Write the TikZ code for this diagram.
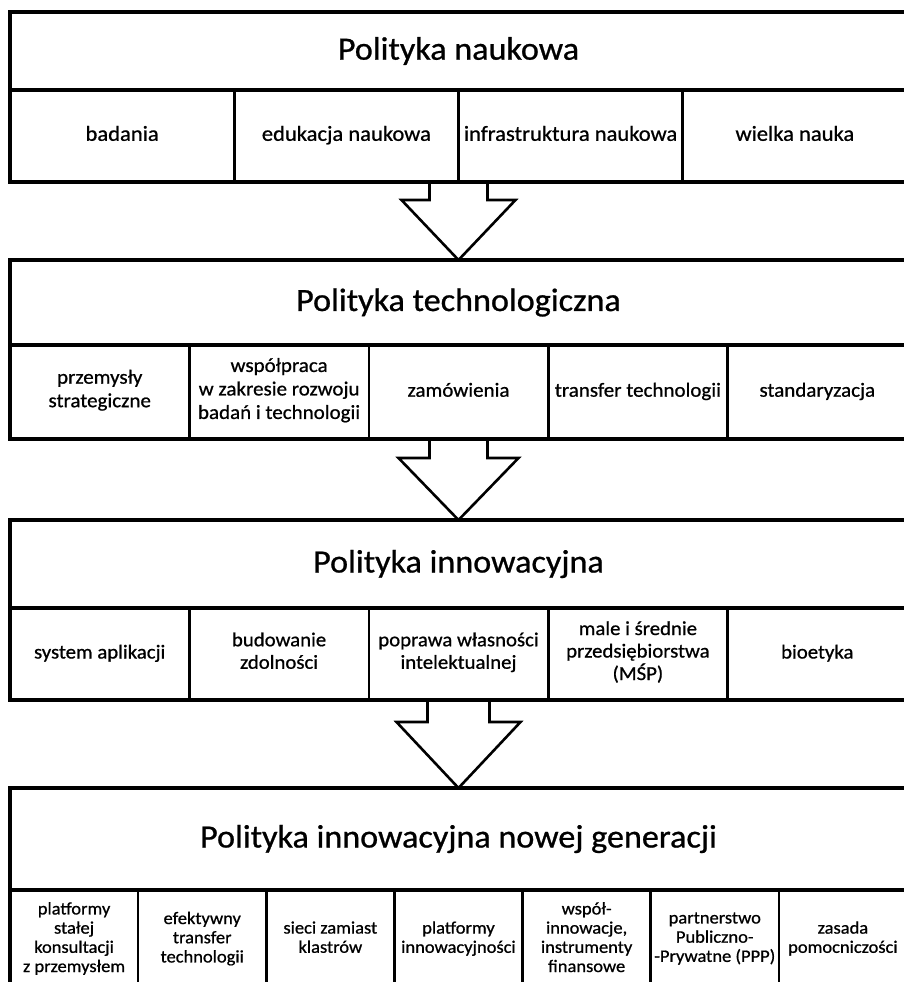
\documentclass[tikz,border=0pt]{standalone}
\usepackage{fontspec}
\setmainfont{Carlito}[FakeStretch=1.05, FakeBold=0.8]
\usetikzlibrary{positioning, calc}

\tikzset{
  head/.style={draw, line width=3.5pt, anchor=north west, outer sep=0pt,
    minimum width=897pt, font=\fontsize{32.5}{36}\selectfont},
  cell/.style={draw, line width=2.6pt, anchor=north west, outer sep=0pt,
    align=center, inner sep=0pt,
    execute at begin node={\strut}, execute at end node={\strut}},
  frame/.style={draw, line width=4pt},
  bigarrow/.style={draw, line width=2.6pt, line join=miter},
}

\begin{document}
\begin{tikzpicture}[x=1pt, y=-1pt]
\useasboundingbox (0,0) rectangle (904,982);
\clip (0,0) rectangle (904,982);

% Polityka naukowa
\node[head, minimum height=78pt] (nauka) at (10,12) {Polityka naukowa};
\begin{scope}[every node/.append style={cell, minimum width=224.25pt, minimum height=92pt,
    font=\fontsize{21.5}{24}\selectfont}]
\node (badania) at (nauka.south west) {badania};
\node[right=0pt of badania] (edukacja) {edukacja naukowa};
\node[right=0pt of edukacja] (infra) {infrastruktura naukowa};
\node[right=0pt of infra] (wielka) {wielka nauka};
\end{scope}
\draw[frame] (nauka.north west) rectangle (wielka.south east);

% Polityka technologiczna
\node[head, minimum height=85pt] (techn) at (10,260) {Polityka technologiczna};
\begin{scope}[every node/.append style={cell, minimum width=179.4pt, minimum height=94pt,
    font=\fontsize{20}{23.5}\selectfont}]
\node (przemysly) at (techn.south west) {przemysły\\strategiczne};
\node[right=0pt of przemysly] (wspolpraca) {współpraca\\w zakresie rozwoju\\badań i technologii};
\node[right=0pt of wspolpraca] (zamowienia) {zamówienia};
\node[right=0pt of zamowienia] (transfer) {transfer technologii};
\node[right=0pt of transfer] (standard) {standaryzacja};
\end{scope}
\draw[frame] (techn.north west) rectangle (standard.south east);

% Polityka innowacyjna
\node[head, minimum height=88pt] (innow) at (10,520) {Polityka innowacyjna};
\begin{scope}[every node/.append style={cell, minimum width=179.4pt, minimum height=92pt,
    font=\fontsize{19.8}{22.5}\selectfont}]
\node (system) at (innow.south west) {system aplikacji};
\node[right=0pt of system] (budowanie) {budowanie\\zdolności};
\node[right=0pt of budowanie] (poprawa) {poprawa własności\\intelektualnej};
\node[right=0pt of poprawa] (msp) {male i średnie\\przedsiębiorstwa\\(MŚP)};
\node[right=0pt of msp] (bioetyka) {bioetyka};
\end{scope}
\draw[frame] (innow.north west) rectangle (bioetyka.south east);

% Polityka innowacyjna nowej generacji
\node[head, minimum height=102pt] (nowa) at (10,788) {Polityka innowacyjna nowej generacji};
\begin{scope}[every node/.append style={cell, minimum width=128.14pt, minimum height=100pt,
    font=\fontsize{17.6}{19.2}\selectfont}]
\node (konsult) at (nowa.south west) {platformy\\stałej\\konsultacji\\z przemysłem};
\node[right=0pt of konsult] (efekt) {efektywny\\transfer\\technologii};
\node[right=0pt of efekt] (sieci) {sieci zamiast\\klastrów};
\node[right=0pt of sieci] (platformy) {platformy\\innowacyjności};
\node[right=0pt of platformy] (wspol) {współ-\\innowacje,\\instrumenty\\finansowe};
\node[right=0pt of wspol] (ppp) {partnerstwo\\Publiczno-\\-Prywatne (PPP)};
\node[right=0pt of ppp] (zasada) {zasada\\pomocniczości};
\end{scope}
\draw[frame] (nowa.north west) rectangle (zasada.south east);

% Strzalki
\path (nauka.center |- badania.south) coordinate (a1)
      (techn.center |- przemysly.south) coordinate (a2)
      (innow.center |- system.south) coordinate (a3);
\draw[bigarrow] ($(a1)+(-29,0)$) -- ($(a1)+(-29,18)$) -- ($(a1)+(-57,18)$) -- (techn.north)
  -- ($(a1)+(57,18)$) -- ($(a1)+(29,18)$) -- ($(a1)+(29,0)$);
\draw[bigarrow] ($(a2)+(-29,0)$) -- ($(a2)+(-29,19)$) -- ($(a2)+(-60,19)$) -- (innow.north)
  -- ($(a2)+(60,19)$) -- ($(a2)+(29,19)$) -- ($(a2)+(29,0)$);
\draw[bigarrow] ($(a3)+(-31,0)$) -- ($(a3)+(-31,22)$) -- ($(a3)+(-62,22)$) -- (nowa.north)
  -- ($(a3)+(62,22)$) -- ($(a3)+(31,22)$) -- ($(a3)+(31,0)$);

\end{tikzpicture}
\end{document}
